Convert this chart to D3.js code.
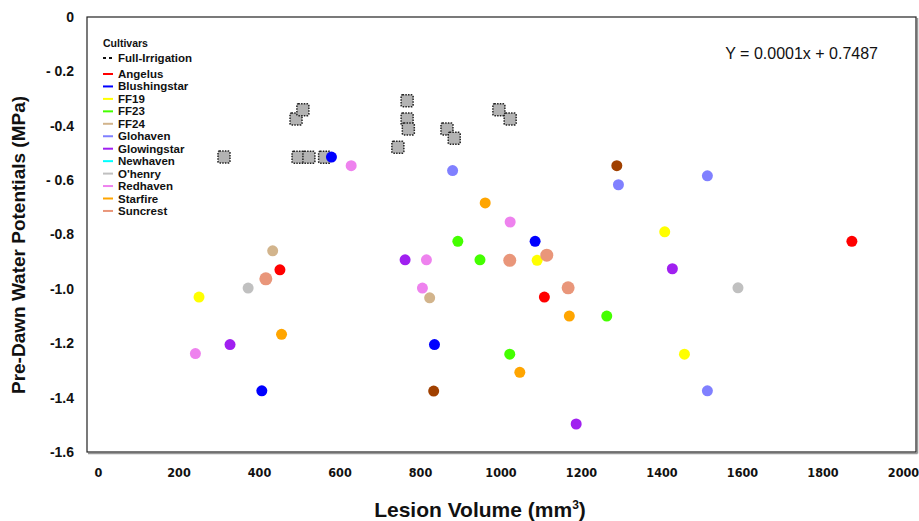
<!DOCTYPE html>
<html>
<head>
<meta charset="utf-8">
<script src="https://cdn.jsdelivr.net/npm/d3@7"></script>
<style>
  body { margin: 0; background: #fff; }
  svg { display: block; font-family: "Liberation Sans", Arial, sans-serif; }
  .narrow { font-family: "Liberation Sans Narrow", "Arial Narrow", "DejaVu Sans Condensed", sans-serif; font-stretch: condensed; }
</style>
</head>
<body>
<svg id="chart" width="919" height="521"></svg>
<script>
// ---- data ----
const xTicks = [0, 200, 400, 600, 800, 1000, 1200, 1400, 1600, 1800, 2000]
const yTicks = [0, -0.2, -0.4, -0.6, -0.8, -1.0, -1.2, -1.4, -1.6]
const yTickLabels = ["0", "- 0.2", "-0.4", "- 0.6", "-0.8", "-1.0", "-1.2", "-1.4", "-1.6"]

const cultivars = ["Angelus", "Blushingstar", "FF19", "FF23", "FF24", "Glohaven",
  "Glowingstar", "Newhaven", "O'henry", "Redhaven", "Starfire", "Suncrest"]
const cultivarColors = ["#ff0000", "#0000ff", "#ffff00", "#44ff00", "#d2b48c", "#8080ff",
  "#a020f0", "#00ffff", "#c0c0c0", "#ee82ee", "#ffa500", "#e9967a"]

// lesion volume (mm3), pre-dawn water potential (MPa)
const angelus      = [[452, -0.93], [1109, -1.03], [1873, -0.825]]
const blushingstar = [[580, -0.515], [407, -1.375], [836, -1.205], [1086, -0.825]]
const ff19         = [[251, -1.03], [1091, -0.895], [1408, -0.79], [1457, -1.24]]
const ff23         = [[894, -0.825], [949, -0.893], [1023, -1.24], [1264, -1.10]]
const ff24         = [[434, -0.86], [824, -1.033]]
const glohaven     = [[881, -0.565], [1293, -0.617], [1514, -0.584], [1514, -1.375]]
const glowingstar  = [[328, -1.205], [763, -0.893], [1427, -0.926], [1188, -1.497]]
const newhaven     = []
const ohenry       = [[373, -0.997], [1590, -0.996]]
const redhaven     = [[242, -1.238], [629, -0.547], [816, -0.893], [806, -0.997], [1024, -0.754]]
const starfire     = [[456, -1.167], [962, -0.684], [1048, -1.307], [1171, -1.10]]
const suncrest     = [[417, -0.963], [1023, -0.895], [1115, -0.876], [1168, -0.996]]
const unlisted     = [[1289, -0.547], [834, -1.376]]   // brown dots, not in legend
const unlistedColor = "#a04000"

const fullIrrigation = [[313, -0.515], [492, -0.375], [509, -0.341], [497, -0.516], [524, -0.516],
  [563, -0.516], [745, -0.479], [768, -0.308], [768, -0.375], [771, -0.412], [867, -0.412],
  [885, -0.446], [996, -0.341], [1024, -0.375]]

const equation = "Y = 0.0001x + 0.7487"

const seriesData = [angelus, blushingstar, ff19, ff23, ff24, glohaven,
  glowingstar, newhaven, ohenry, redhaven, starfire, suncrest]

// ---- layout ----
const svg = d3.select("#chart")
const frame = { left: 87, top: 17, right: 916, bottom: 452 }

const x = d3.scaleLinear().domain([0, 2000]).range([98, 903])
const y = d3.scaleLinear().domain([-1.6, 0]).range([frame.bottom, frame.top])

// plot frame (thin left/top, heavier shadowed right/bottom)
svg.append("line").attr("x1", frame.right + 1.5).attr("x2", frame.right + 1.5)
  .attr("y1", frame.top + 1).attr("y2", frame.bottom + 1.5)
  .attr("stroke", "#999").attr("stroke-width", 1.5)
svg.append("line").attr("x1", frame.left + 1).attr("x2", frame.right + 1.5)
  .attr("y1", frame.bottom + 1.5).attr("y2", frame.bottom + 1.5)
  .attr("stroke", "#999").attr("stroke-width", 1.5)
svg.append("rect")
  .attr("x", frame.left).attr("y", frame.top)
  .attr("width", frame.right - frame.left).attr("height", frame.bottom - frame.top)
  .attr("fill", "none").attr("stroke", "#222").attr("stroke-width", 1.2)

// y axis labels
const yAxis = d3.axisLeft(y).tickValues(yTicks)
  .tickFormat((d, i) => yTickLabels[i]).tickSize(0).tickPadding(0)
svg.append("g").attr("transform", "translate(74,0)").call(yAxis)
  .call(g => g.select(".domain").remove())
  .selectAll("text")
  .attr("font-family", "'Liberation Sans', Arial, sans-serif")
  .attr("font-size", 14).attr("font-weight", "bold").attr("fill", "#111")

svg.append("text")
  .attr("transform", "translate(25,245) rotate(-90)")
  .attr("text-anchor", "middle")
  .attr("font-size", 19).attr("font-weight", "bold").attr("fill", "#111")
  .text("Pre-Dawn Water Potentials (MPa)")

// x axis labels
const xAxis = d3.axisBottom(x).tickValues(xTicks).tickFormat(d3.format("d"))
  .tickSize(0).tickPadding(0)
svg.append("g").attr("transform", "translate(0,468)").call(xAxis)
  .call(g => g.select(".domain").remove())
  .selectAll("text")
  .attr("class", "narrow")
  .attr("font-size", 12.5).attr("font-weight", "bold").attr("fill", "#111")

const xt = svg.append("text")
  .attr("x", 480).attr("y", 517).attr("text-anchor", "middle")
  .attr("font-size", 21).attr("font-weight", "bold").attr("fill", "#111")
xt.append("tspan").text("Lesion Volume (mm")
xt.append("tspan").attr("font-size", 12).attr("dy", -8).text("3")
xt.append("tspan").attr("dy", 8).text(")")

// equation
svg.append("text").attr("x", 878).attr("y", 59).attr("text-anchor", "end")
  .attr("font-size", 16).attr("fill", "#111").text(equation)

// full-irrigation squares
svg.append("g").selectAll("rect")
  .data(fullIrrigation).enter().append("rect")
  .attr("x", d => x(d[0]) - 6).attr("y", d => y(d[1]) - 6)
  .attr("width", 12).attr("height", 12).attr("rx", 1.5)
  .attr("fill", "#b3b3b3").attr("stroke", "#222")
  .attr("stroke-width", 1.5).attr("stroke-dasharray", "1.5,1.2")

// cultivar dots
const dots = svg.append("g")
seriesData.forEach(function(pts, i) {
  dots.selectAll(null).data(pts).enter().append("circle")
    .attr("cx", d => x(d[0])).attr("cy", d => y(d[1]))
    .attr("r", cultivars[i] === "Suncrest" ? 6.5 : 5.5)
    .attr("fill", cultivarColors[i])
})
dots.selectAll(null).data(unlisted).enter().append("circle")
  .attr("cx", d => x(d[0])).attr("cy", d => y(d[1])).attr("r", 5.5)
  .attr("fill", unlistedColor)

// legend
const lg = svg.append("g").attr("transform", "translate(103,0)")
lg.append("text").attr("x", 0).attr("y", 47)
  .attr("font-size", 10.5).attr("font-weight", "bold").attr("fill", "#111").text("Cultivars")
lg.append("line").attr("x1", 0).attr("x2", 10).attr("y1", 58).attr("y2", 58)
  .attr("stroke", "#111").attr("stroke-width", 2).attr("stroke-dasharray", "3,3")
lg.append("text").attr("x", 15).attr("y", 62)
  .attr("font-size", 11.5).attr("font-weight", "bold").attr("fill", "#111").text("Full-Irrigation")

const items = lg.selectAll("g.item").data(cultivars).enter().append("g")
  .attr("class", "item")
  .attr("transform", (d, i) => "translate(0," + (74 + i * 12.45) + ")")
items.append("line").attr("x1", 0).attr("x2", 10).attr("y1", 0).attr("y2", 0)
  .attr("stroke", (d, i) => cultivarColors[i]).attr("stroke-width", 2)
items.append("text").attr("x", 15).attr("y", 4)
  .attr("font-size", 11.5).attr("font-weight", "bold").attr("fill", "#111")
  .text(d => d)
</script>
</body>
</html>
